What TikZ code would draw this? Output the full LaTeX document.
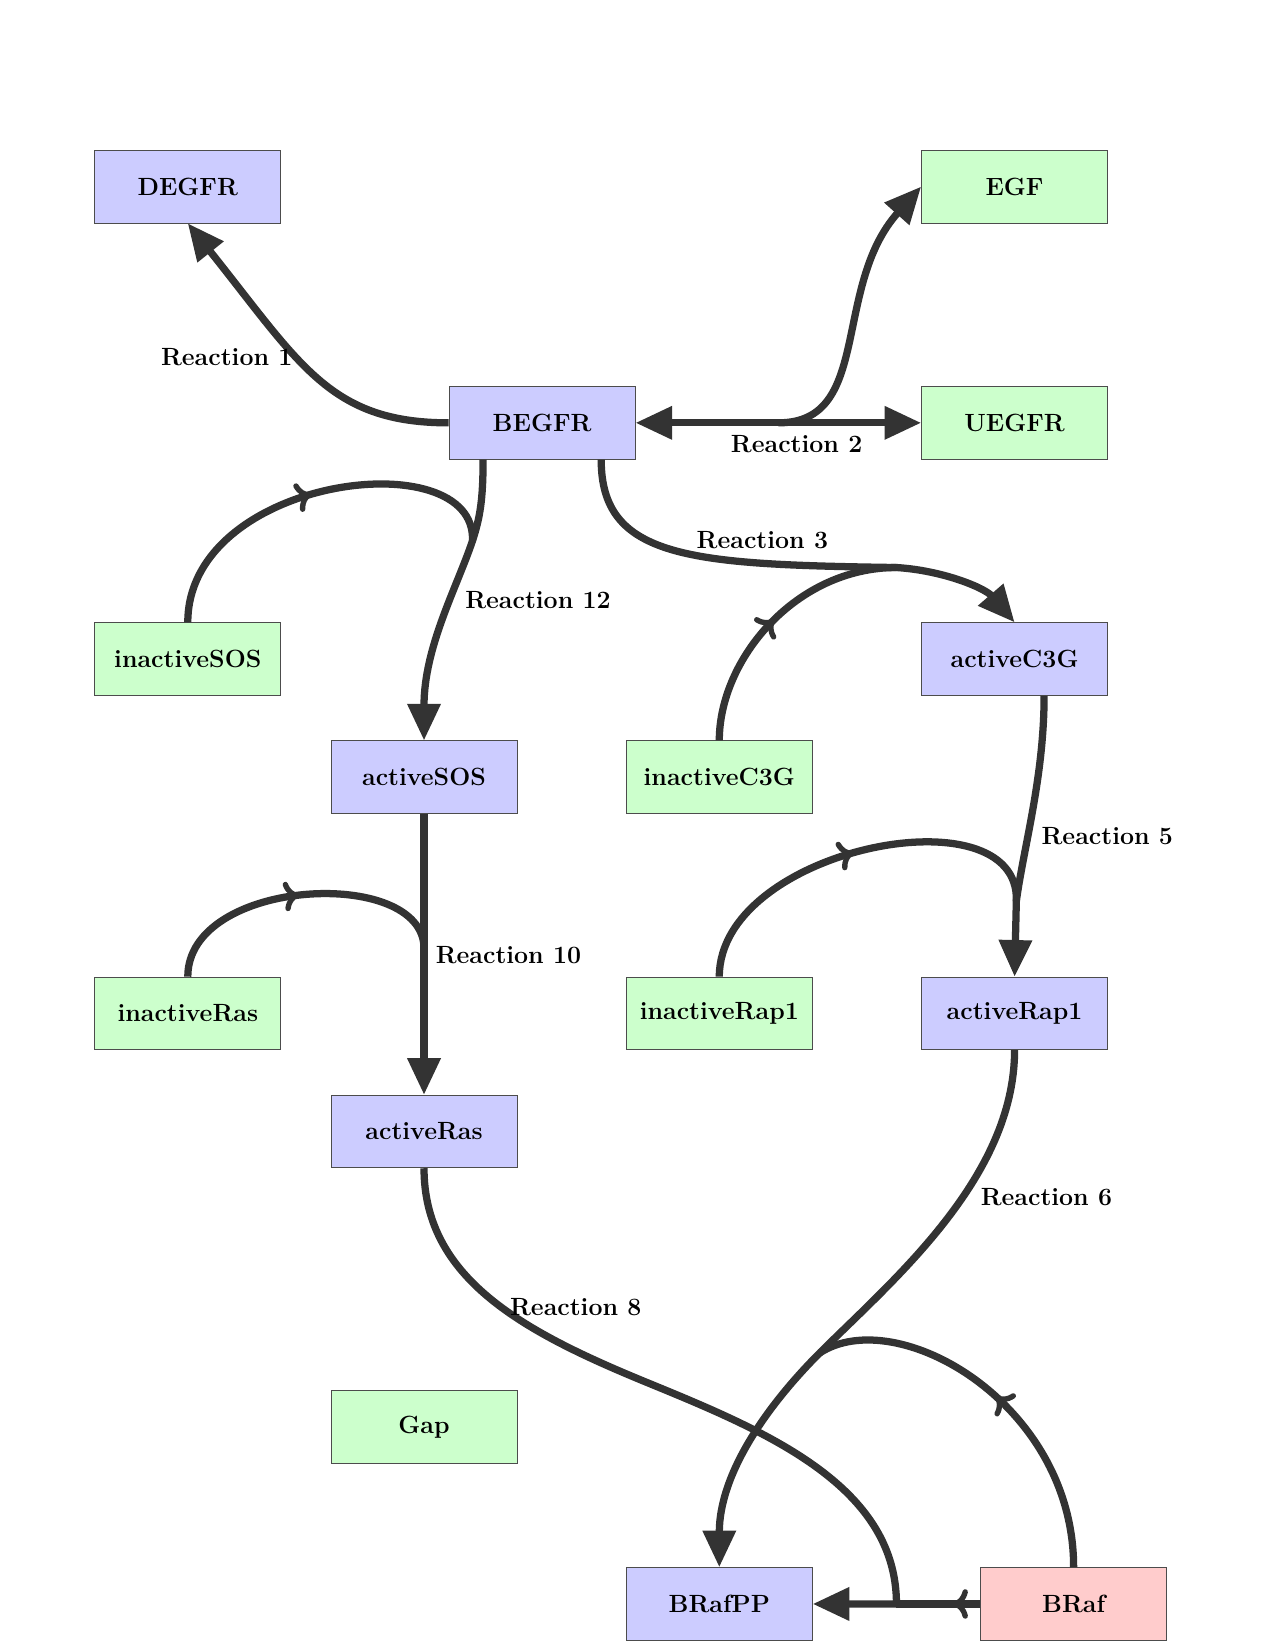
\documentclass[tikz,border=0pt]{standalone}
\usepackage{tikz}
\usetikzlibrary{arrows.meta,decorations.markings}

\begin{document}
\begin{tikzpicture}[every node/.style={font=\large\bfseries}, >={Triangle[length=6.2mm, width=5.4mm]}, s/.style={draw=black!70, fill=blue!20, minimum width=3.15cm, minimum height=1.23cm}, rx/.style={draw=black!80, line width=3.5pt}, mk/.style={rx, postaction={decorate}, decoration={markings, mark=at position #1 with {\arrow{To[length=2.6mm, width=5mm, line width=2.6pt]}}}}]
	\useasboundingbox (-0.18,0.16) rectangle (21.41,-27.78);
	\node[s] (DEGFR) at (3,-3) {DEGFR};
	\node[s, fill=green!20] (EGF) at (17,-3) {EGF};
	\node[s] (BEGFR) at (9,-7) {BEGFR};
	\node[s, fill=green!20] (UEGFR) at (17,-7) {UEGFR};
	\node[s, fill=green!20] (inactiveSOS) at (3,-11) {inactiveSOS};
	\node[s] (activeC3G) at (17,-11) {activeC3G};
	\node[s] (activeSOS) at (7,-13) {activeSOS};
	\node[s, fill=green!20] (inactiveC3G) at (12,-13) {inactiveC3G};
	\node[s, fill=green!20] (inactiveRas) at (3,-17) {inactiveRas};
	\node[s, fill=green!20] (inactiveRap1) at (12,-17) {inactiveRap1};
	\node[s] (activeRap1) at (17,-17) {activeRap1};
	\node[s] (activeRas) at (7,-19) {activeRas};
	\node[s, fill=green!20] (Gap) at (7,-24) {Gap};
	\node[s] (BRafPP) at (12,-27) {BRafPP};
	\node[s, fill=red!20] (BRaf) at (18,-27) {BRaf};
	\coordinate (r2) at (13,-7);
	\coordinate (r3) at (15,-9.45);
	\coordinate (r12) at (7.82,-9);
	\coordinate (r10) at (7,-15.9);
	\coordinate (r5) at (17.03,-15.1);
	\coordinate (r6) at (13.7,-22.75);
	\coordinate (b8) at (10.8,-23.26);
	\coordinate (r8) at (15,-27);
	\draw[rx, ->] (BEGFR.west) .. controls (5.4,-7) and (4.9,-6) .. (DEGFR.south);
	\draw[rx, <->] (BEGFR) -- (UEGFR);
	\draw[rx, ->] (r2) .. controls (14.6,-7) and (13.9,-4.7) .. (EGF.west);
	\draw[rx, ->] ([xshift=1cm]BEGFR.south) .. controls (10,-9.3) and (11.5,-9.4) .. (r3) .. controls (15.8,-9.5) and (16.5,-9.8) .. (activeC3G.north);
	\draw[mk=0.5] (inactiveC3G.north) .. controls (12,-11) and (13.3,-9.45) .. (r3);
	\draw[rx, ->] ([xshift=-1cm]BEGFR.south) .. controls (8,-8.3) and (7.95,-8.6) .. (r12) .. controls (7.55,-9.8) and (7,-10.8) .. (activeSOS.north);
	\draw[mk=0.5] (inactiveSOS.north) .. controls (3,-7.9) and (7.9,-7.3) .. (r12);
	\draw[rx, ->] (activeSOS) -- (activeRas);
	\draw[mk=0.5] (inactiveRas.north) .. controls (3,-14.7) and (7,-14.5) .. (r10);
	\draw[rx, ->] ([xshift=5mm]activeC3G.south) .. controls (17.5,-13) and (17.15,-14.2) .. (r5) -- (activeRap1.north);
	\draw[mk=0.5] (inactiveRap1.north) .. controls (12,-14.2) and (17.1,-13.2) .. (r5);
	\draw[rx, ->] (activeRap1.south) .. controls (17,-19.8) and (14.9,-21.55) .. (r6) .. controls (12.8,-23.65) and (12,-24.8) .. (BRafPP.north);
	\draw[mk=0.5] (BRaf.north) .. controls (18,-23.6) and (15,-21.9) .. (r6);
	\draw[rx, ->] (activeRas.south) .. controls (7,-21.5) and (8.7,-22.4) .. (b8) .. controls (12.8,-24.08) and (15,-25) .. (r8) -- (BRafPP.east);
	\draw[mk=0.33] (BRaf.west) -- (r8);
	\node (l1) at (3.66,-5.89) {Reaction 1};
	\node (l2) at (13.31,-7.36) {Reaction 2};
	\node (l3) at (12.73,-8.98) {Reaction 3};
	\node (l12) at (8.93,-10) {Reaction 12};
	\node (l10) at (8.43,-16.01) {Reaction 10};
	\node (l5) at (18.57,-14) {Reaction 5};
	\node (l6) at (17.54,-20.11) {Reaction 6};
	\node (l8) at (9.57,-21.98) {Reaction 8};
\end{tikzpicture}
\end{document}
